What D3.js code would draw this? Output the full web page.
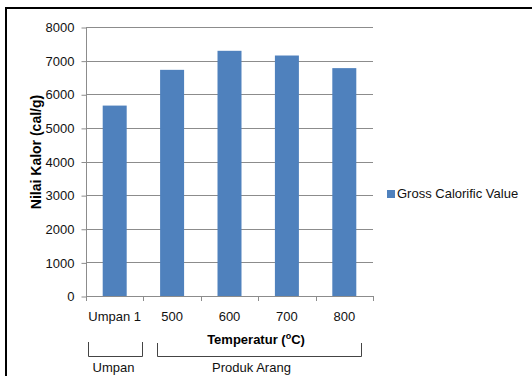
<!DOCTYPE html>
<html>
<head>
<meta charset="utf-8">
<script src="https://cdn.jsdelivr.net/npm/d3@7"></script>
<style>
  html, body { margin: 0; padding: 0; background: #fff; }
  svg { display: block; font-family: "Liberation Sans", Arial, sans-serif; }
</style>
</head>
<body>
<svg id="chart" width="532" height="376"></svg>
<script>
// Gross calorific value of the feed and of the char products
const categories = ["Umpan 1", "500", "600", "700", "800"];
const grossCalorific = [5663, 6726, 7292, 7152, 6777];
const yTicks = [0, 1000, 2000, 3000, 4000, 5000, 6000, 7000, 8000];
const groupNames = ["Umpan", "Produk Arang"];
const groupFirst = ["Umpan 1", "500"];
const groupLast = ["Umpan 1", "800"];
const seriesName = "Gross Calorific Value";

const svg = d3.select("#chart");
const barColor = "#4f81bd";
const gridColor = "#8c8c8c";

const plotLeft = 86, plotRight = 373, plotTop = 27, plotBottom = 296;

const x = d3.scaleBand()
  .domain(categories)
  .range([plotLeft, plotRight])
  .paddingInner(0.582)
  .paddingOuter(0.291);

const y = d3.scaleLinear().domain([0, 8000]).range([plotBottom, plotTop]);

// outer frame (top and left rules)
svg.append("rect").attr("x", 5).attr("y", 7).attr("width", 532).attr("height", 2).attr("fill", "#000");
svg.append("rect").attr("x", 5).attr("y", 7).attr("width", 2).attr("height", 376).attr("fill", "#000");

// gridlines
svg.append("g").selectAll("line")
  .data(yTicks.filter(d => d > 0))
  .join("line")
  .attr("x1", plotLeft).attr("x2", plotRight)
  .attr("y1", d => Math.round(y(d)) + 0.5).attr("y2", d => Math.round(y(d)) + 0.5)
  .attr("stroke", gridColor).attr("stroke-width", 1);

// bars
svg.append("g").selectAll("rect")
  .data(categories)
  .join("rect")
  .attr("x", d => x(d))
  .attr("width", x.bandwidth())
  .attr("y", (d, i) => y(grossCalorific[i]))
  .attr("height", (d, i) => plotBottom - y(grossCalorific[i]))
  .attr("fill", barColor);

// y axis
const yAxis = svg.append("g")
  .attr("transform", `translate(${plotLeft + 0.5},0)`)
  .call(d3.axisLeft(y).tickValues(yTicks).tickSize(5).tickPadding(7).tickFormat(d3.format("d")));
yAxis.select(".domain").attr("stroke", gridColor).attr("d", `M0,${plotTop}V${plotBottom}`);
yAxis.selectAll(".tick line").attr("stroke", gridColor).attr("transform", "translate(0,0.5)");
yAxis.selectAll(".tick text")
  .attr("font-size", 13).attr("fill", "#111")
  .attr("font-family", "Liberation Sans, Arial, sans-serif")
  .attr("dy", "0.36em");

// x axis
const xAxis = svg.append("g")
  .attr("transform", `translate(0,${plotBottom + 0.5})`)
  .call(d3.axisBottom(x).tickSize(0).tickPadding(15));
xAxis.select(".domain").attr("stroke", gridColor).attr("d", `M${plotLeft},0H${plotRight}`);
xAxis.selectAll(".tick text")
  .attr("font-size", 13).attr("fill", "#111")
  .attr("font-family", "Liberation Sans, Arial, sans-serif");

// category boundary ticks
const half = (x.step() - x.bandwidth()) / 2;
const bounds = categories.map(c => x(c) - half)
  .concat([x(categories[categories.length - 1]) + x.bandwidth() + half]);
svg.append("g").selectAll("line")
  .data(bounds)
  .join("line")
  .attr("x1", d => Math.round(d) + 0.5).attr("x2", d => Math.round(d) + 0.5)
  .attr("y1", plotBottom).attr("y2", plotBottom + 5)
  .attr("stroke", gridColor);

// x axis title
const xt = svg.append("text")
  .attr("x", 256).attr("y", 344)
  .attr("text-anchor", "middle")
  .attr("font-size", 13).attr("font-weight", "bold").attr("fill", "#000");
xt.append("tspan").text("Temperatur (");
xt.append("tspan").text("o").attr("font-size", 9).attr("dy", -5);
xt.append("tspan").text("C)").attr("dy", 5);

// y axis title
svg.append("text")
  .attr("transform", "translate(41,152) rotate(-90)")
  .attr("text-anchor", "middle")
  .attr("font-size", 14).attr("font-weight", "bold").attr("fill", "#000")
  .text("Nilai Kalor (cal/g)");

// group brackets under the categories
const bracketSpan = [
  [x(groupFirst[0]) - half + 2, x(groupLast[0]) + x.bandwidth() + half - 1],
  [x(groupFirst[1]) - 3, x(groupLast[1]) + x.bandwidth() + 5]
];
const bracketTop = [342, 343];
const br = svg.append("g");
groupNames.forEach((name, i) => {
  const [a, b] = bracketSpan[i].map(v => Math.round(v) + 0.5);
  br.append("path")
    .attr("d", `M${a},${bracketTop[i]}V356.5H${b}V${bracketTop[i]}`)
    .attr("fill", "none").attr("stroke", "#444").attr("stroke-width", 1);
  br.append("text")
    .attr("x", i === 0 ? (a + b) / 2 - 2 : (a + b) / 2 - 8)
    .attr("y", 372)
    .attr("text-anchor", "middle")
    .attr("font-size", 13).attr("fill", "#111")
    .text(name);
});

// legend
svg.append("rect").attr("x", 387).attr("y", 190).attr("width", 8).attr("height", 8).attr("fill", barColor);
svg.append("text").attr("x", 397).attr("y", 198)
  .attr("font-size", 13).attr("fill", "#111")
  .text(seriesName);
</script>
</body>
</html>
